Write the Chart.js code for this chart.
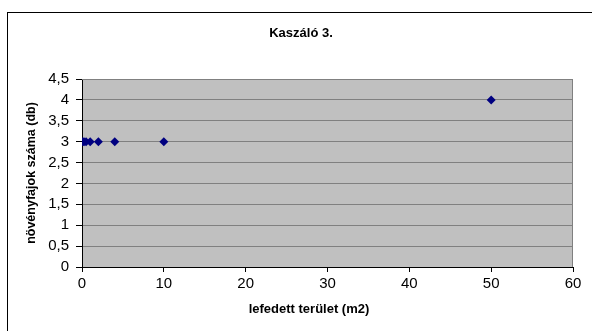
<!DOCTYPE html>
<html>
<head>
<meta charset="utf-8">
<script src="https://cdn.jsdelivr.net/npm/chart.js@4/dist/chart.umd.min.js"></script>
<style>
  html, body { margin: 0; padding: 0; background: #ffffff; }
  #wrap { width: 592px; height: 331px; position: relative; }
</style>
</head>
<body>
<div id="wrap"><canvas id="c" width="592" height="331"></canvas></div>
<script>
// Covered area (m2) and species count for each sample plot
const areas = [0.1, 0.25, 0.5, 1, 2, 4, 10, 50];
const speciesCounts = [3, 3, 3, 3, 3, 3, 3, 4];
const xTicks = [0, 10, 20, 30, 40, 50, 60];
const yTicks = [0, 0.5, 1, 1.5, 2, 2.5, 3, 3.5, 4, 4.5];
const chartTitle = 'Kaszáló 3.';
const xTitle = 'lefedett terület (m2)';
const yTitle = 'növényfajok száma (db)';

const FONT = "'Liberation Sans', Arial, sans-serif";

// Grey plot area, its frame, the outer chart frame, the chart title and the x axis title
const framePlugin = {
  id: 'frame',
  beforeDraw(chart) {
    const { ctx, chartArea: a } = chart;
    ctx.save();
    ctx.fillStyle = '#ffffff';
    ctx.fillRect(0, 0, chart.width, chart.height);
    ctx.fillStyle = '#c0c0c0';
    ctx.fillRect(a.left, a.top, a.right - a.left, a.bottom - a.top);
    ctx.restore();
  },
  afterDraw(chart) {
    const { ctx, chartArea: a } = chart;
    ctx.save();
    ctx.strokeStyle = '#000000';
    ctx.lineWidth = 1;
    ctx.strokeRect(7.5, 12.5, chart.width + 10, chart.height + 10);
    ctx.strokeStyle = '#808080';
    ctx.beginPath();
    ctx.moveTo(a.left, a.top + 0.5);
    ctx.lineTo(a.right - 0.5, a.top + 0.5);
    ctx.lineTo(a.right - 0.5, a.bottom);
    ctx.stroke();
    ctx.fillStyle = '#000000';
    ctx.textAlign = 'center';
    ctx.textBaseline = 'middle';
    ctx.font = 'bold 13px ' + FONT;
    ctx.fillText(chartTitle, 301, 33);
    ctx.font = 'bold 13px ' + FONT;
    ctx.fillText(xTitle, 309, 309);
    ctx.restore();
  }
};

new Chart(document.getElementById('c'), {
  type: 'scatter',
  data: {
    datasets: [{
      data: areas.map((x, i) => ({ x: x, y: speciesCounts[i] })),
      backgroundColor: '#000080',
      borderColor: '#000080',
      pointStyle: 'rectRot',
      pointRadius: 4.5,
      pointHoverRadius: 4.5,
      borderWidth: 0
    }]
  },
  options: {
    responsive: false,
    animation: false,
    events: [],
    layout: { padding: { left: 0, right: 19, top: 79, bottom: 0 } },
    plugins: {
      legend: { display: false },
      tooltip: { enabled: false },
      title: { display: false }
    },
    scales: {
      x: {
        type: 'linear',
        min: 0,
        max: 60,
        afterBuildTicks(scale) { scale.ticks = xTicks.map(v => ({ value: v })); },
        afterFit(scale) { scale.height = 64; },
        border: { display: true, color: '#000000', width: 1 },
        grid: {
          drawOnChartArea: false,
          drawTicks: true,
          tickLength: 5,
          tickColor: '#000000'
        },
        ticks: {
          color: '#000000',
          font: { family: FONT, size: 15 },
          padding: 3,
          maxRotation: 0,
          autoSkip: false
        },
        title: { display: false }
      },
      y: {
        type: 'linear',
        min: 0,
        max: 4.5,
        afterBuildTicks(scale) { scale.ticks = yTicks.map(v => ({ value: v })); },
        afterFit(scale) { scale.width = 82; },
        border: { display: true, color: '#000000', width: 1 },
        grid: {
          color: '#808080',
          lineWidth: 1,
          drawTicks: true,
          tickLength: 6,
          tickColor: '#000000'
        },
        ticks: {
          color: '#000000',
          font: { family: FONT, size: 15 },
          padding: 7,
          autoSkip: false,
          callback: v => String(v).replace('.', ',')
        },
        title: {
          display: true,
          text: yTitle,
          color: '#000000',
          font: { family: FONT, size: 12.5, weight: 'bold' },
          padding: { top: 24, bottom: 0 }
        }
      }
    }
  },
  plugins: [framePlugin]
});
</script>
</body>
</html>
